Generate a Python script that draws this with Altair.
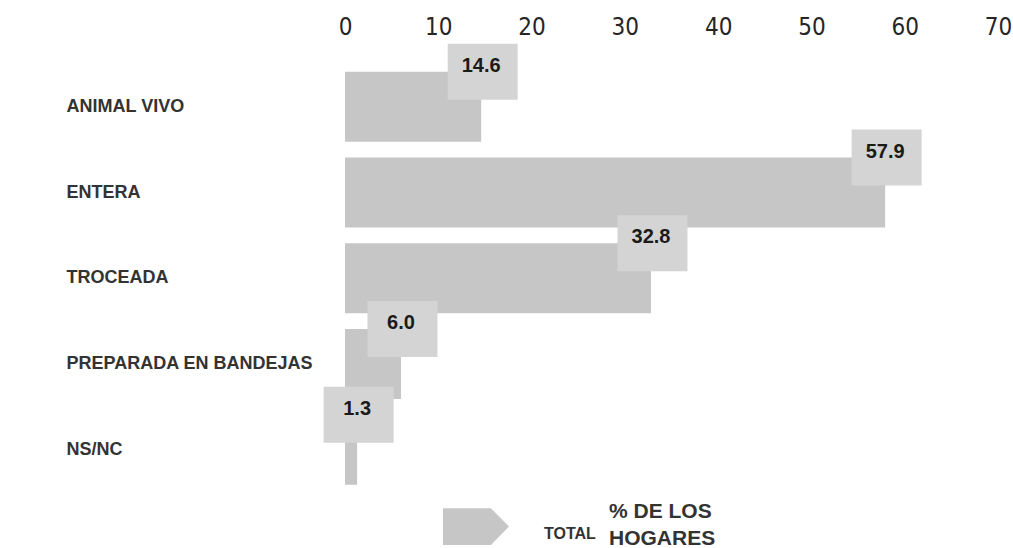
import altair as alt
import pandas as pd

# Forma en que se compra la gallina (porcentaje de los hogares)
categorias = ["ANIMAL VIVO", "ENTERA", "TROCEADA", "PREPARADA  EN BANDEJAS", "NS/NC"]
porcentajes = [14.6, 57.9, 32.8, 6.0, 1.3]
serie = "TOTAL"
ticks_x = [0, 10, 20, 30, 40, 50, 60, 70]
titulo_leyenda = ["% DE LOS", "HOGARES"]

df = pd.DataFrame({"forma": categorias, "pct": porcentajes, "serie": serie})
df["etiqueta"] = df["pct"].map(lambda v: f"{v:.1f}")

GRIS_BARRA = "#c6c6c6"
GRIS_CAJA = "#d4d4d4"
TEXTO = "#333333"
FUENTE = "Liberation Sans"

x_enc = alt.X(
    "pct:Q",
    title=None,
    scale=alt.Scale(domain=[0, 70], nice=False),
    axis=alt.Axis(
        orient="top", values=ticks_x, domain=False, ticks=False, tickSize=0,
        grid=False, labelFont="DejaVu Sans Condensed, Liberation Sans",
        labelFontSize=24, labelColor="#262626", labelPadding=30,
        labelBaseline="alphabetic", labelFlush=False,
    ),
)
y_enc = alt.Y(
    "forma:N",
    sort=categorias,
    title=None,
    scale=alt.Scale(paddingInner=0.183, paddingOuter=0.0915),
    axis=alt.Axis(
        orient="left", domain=False, ticks=False, tickSize=0, grid=False,
        labelAlign="left", labelPadding=279, labelLimit=400,
        labelFont=FUENTE, labelFontWeight="bold", labelFontSize=18,
        labelColor=TEXTO,
    ),
)

base = alt.Chart(df).encode(x=x_enc, y=y_enc)

# Símbolo de la leyenda: pentágono en forma de flecha (desplazado hacia arriba
# para que el título de dos líneas quede centrado respecto a él)
flecha = "M-1,-0.92L0.45,-0.92L1,-0.36L0.45,0.2L-1,0.2Z"

barras = base.mark_bar(opacity=1).encode(
    color=alt.Color(
        "serie:N",
        scale=alt.Scale(range=[GRIS_BARRA]),
        legend=alt.Legend(
            orient="none", legendX=98, legendY=441.5, direction="vertical",
            title=titulo_leyenda, titleOrient="right", titleFont=FUENTE,
            titleFontSize=21, titleFontWeight="bold", titleColor=TEXTO,
            titleLineHeight=27, titlePadding=13,
            symbolType=flecha,
            symbolSize=4356, symbolStrokeWidth=0, symbolOpacity=1,
            labelFont=FUENTE, labelFontSize=16, labelFontWeight="bold",
            labelColor=TEXTO, labelOffset=35, labelBaseline="alphabetic",
            padding=0,
        ),
    )
)

cajas = base.mark_point(
    shape="M-1,-0.8H1V0.8H-1Z", size=4900, filled=True, color=GRIS_CAJA,
    opacity=1, yOffset=-35, xOffset=1.5,
)

valores = base.mark_text(
    font=FUENTE, fontSize=20, fontWeight="bold", color="#1a1a1a",
    baseline="middle", align="center", yOffset=-41,
).encode(text="etiqueta:N")

chart = (
    alt.layer(barras, cajas, valores)
    .properties(
        width=653, height=428.5,
        autosize=alt.AutoSizeParams(type="none"),
        padding={"left": 345, "top": 64, "right": 15, "bottom": 56},
        background="white",
    )
    .configure_view(strokeWidth=0, strokeOpacity=0)
)

chart.save("out.html", embed_options={"renderer": "svg", "actions": False})
